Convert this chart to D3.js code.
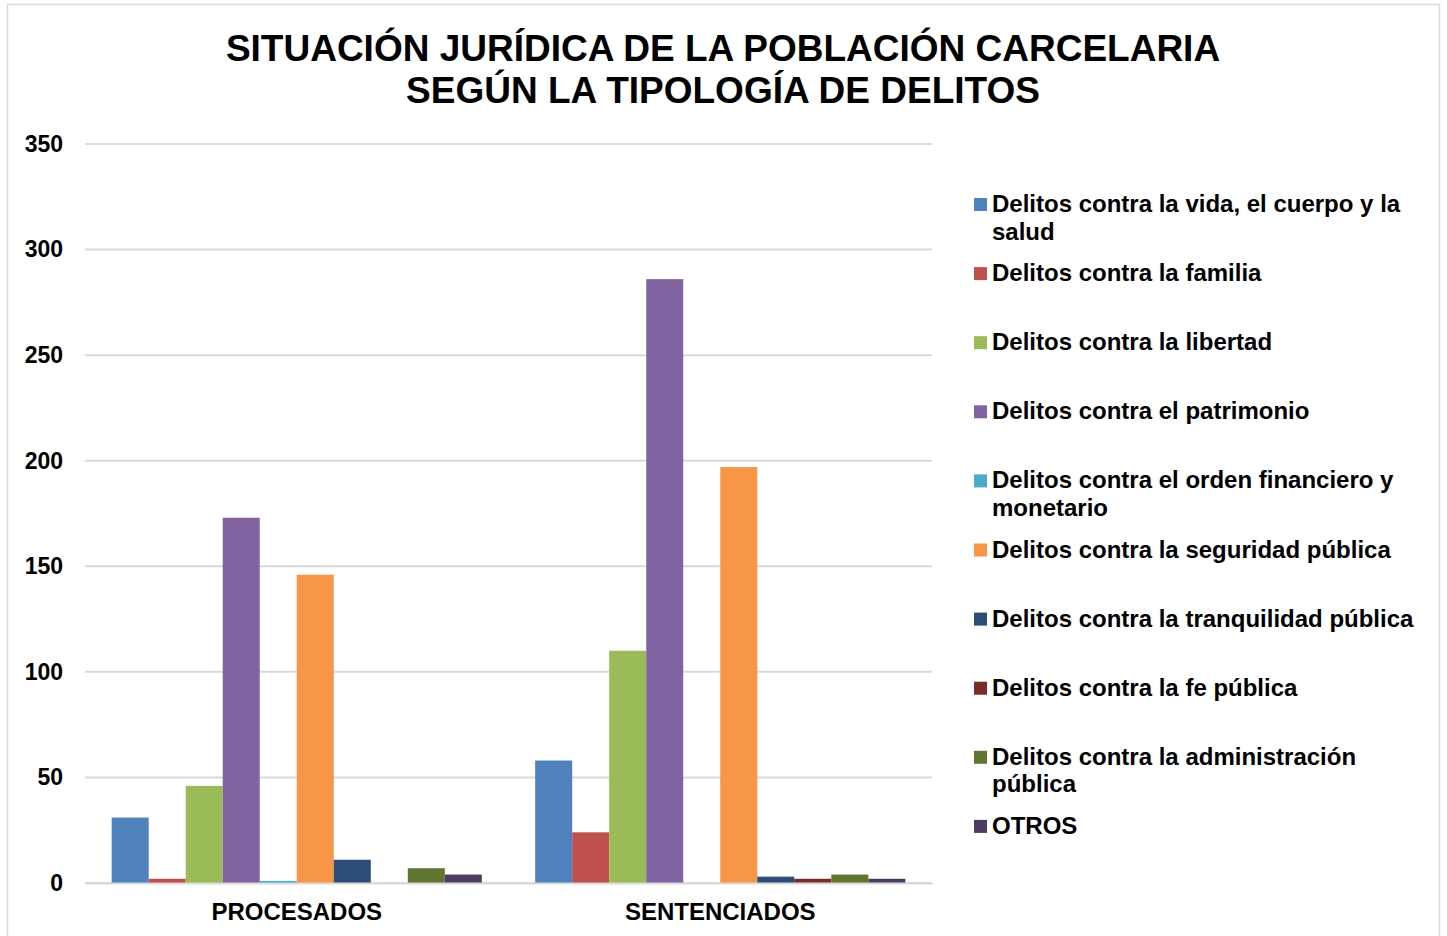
<!DOCTYPE html>
<html>
<head>
<meta charset="utf-8">
<style>
  body { margin: 0; background: #fff; }
  svg text { font-family: 'Liberation Sans', Arial, sans-serif; font-weight: bold; fill: #000; }
  .grid line { stroke: #d9d9d9; stroke-width: 2; }
</style>
</head>
<body>
<div id="chart"></div>
<script src="https://cdn.jsdelivr.net/npm/d3@7"></script>
<script>
var categories = ["PROCESADOS", "SENTENCIADOS"];
var series = [
  "Delitos contra la vida, el cuerpo y la salud",
  "Delitos contra la familia",
  "Delitos contra la libertad",
  "Delitos contra el patrimonio",
  "Delitos contra el orden financiero y monetario",
  "Delitos contra la seguridad pública",
  "Delitos contra la tranquilidad pública",
  "Delitos contra la fe pública",
  "Delitos contra la administración pública",
  "OTROS"
];
// legend lines as wrapped in the picture
var legendLines = [
  ["Delitos contra la vida, el cuerpo y la", "salud"],
  ["Delitos contra la familia"],
  ["Delitos contra la libertad"],
  ["Delitos contra el patrimonio"],
  ["Delitos contra el orden financiero y", "monetario"],
  ["Delitos contra la seguridad pública"],
  ["Delitos contra la tranquilidad pública"],
  ["Delitos contra la fe pública"],
  ["Delitos contra la administración", "pública"],
  ["OTROS"]
];
var procesados   = [31, 2, 46, 173, 1, 146, 11, 0, 7, 4];
var sentenciados = [58, 24, 110, 286, 0, 197, 3, 2, 4, 2];
var colors = ["#4F81BD", "#C0504D", "#9BBB59", "#8064A2", "#4BACC6",
              "#F79646", "#2C4D75", "#772C2A", "#5F7530", "#4D3B62"];
var yTicks = [0, 50, 100, 150, 200, 250, 300, 350];

var width = 1447, height = 936;
var values = [procesados, sentenciados];

var svg = d3.select("#chart").append("svg")
  .attr("width", width)
  .attr("height", height);

// outer chart frame
svg.append("rect")
  .attr("x", 7.5).attr("y", 4.5)
  .attr("width", 1432).attr("height", 940)
  .attr("fill", "#fff")
  .attr("stroke", "#d9d9d9")
  .attr("stroke-width", 1.5);

// title
var title = svg.append("text")
  .attr("text-anchor", "middle")
  .style("font-size", "37px");
title.append("tspan").attr("x", 723).attr("y", 61).text("SITUACIÓN JURÍDICA DE LA POBLACIÓN CARCELARIA");
title.append("tspan").attr("x", 723).attr("y", 103).text("SEGÚN LA TIPOLOGÍA DE DELITOS");

var plotLeft = 85, plotRight = 932, plotTop = 144, plotBottom = 883;

var y = d3.scaleLinear().domain([0, 350]).range([plotBottom, plotTop]);
var x0 = d3.scaleBand().domain(categories).range([plotLeft, plotRight])
  .paddingInner(0.126).paddingOuter(0.063);
var x1 = d3.scaleBand().domain(d3.range(series.length)).range([0, x0.bandwidth()]);

// gridlines
svg.append("g").attr("class", "grid")
  .selectAll("line").data(yTicks).enter().append("line")
  .attr("x1", plotLeft).attr("x2", plotRight)
  .attr("y1", function(d) { return y(d); })
  .attr("y2", function(d) { return y(d); });

// y axis labels
var yAxis = d3.axisLeft(y).tickValues(yTicks).tickSize(0).tickPadding(22);
var ya = svg.append("g").attr("transform", "translate(" + plotLeft + ",0)").call(yAxis);
ya.select(".domain").remove();
ya.selectAll("text").style("font-size", "23px")
  .style("font-family", "'Liberation Sans', Arial, sans-serif")
  .style("font-weight", "bold").attr("fill", "#000");

// bars
var groups = svg.append("g").selectAll("g").data(categories).enter().append("g")
  .attr("transform", function(d) { return "translate(" + x0(d) + ",0)"; });
groups.selectAll("rect")
  .data(function(d, i) { return values[i].map(function(v, j) { return { v: v, j: j }; }); })
  .enter().append("rect")
  .attr("x", function(d) { return x1(d.j); })
  .attr("width", x1.bandwidth())
  .attr("y", function(d) { return y(d.v); })
  .attr("height", function(d) { return plotBottom - y(d.v); })
  .attr("fill", function(d) { return colors[d.j]; });

// category axis
var xAxis = d3.axisBottom(x0).tickSize(0).tickPadding(20);
var xa = svg.append("g").attr("transform", "translate(0," + plotBottom + ")").call(xAxis);
xa.select(".domain").attr("stroke", "#d9d9d9").attr("stroke-width", 2);
xa.selectAll("text").style("font-size", "24px")
  .style("font-family", "'Liberation Sans', Arial, sans-serif")
  .style("font-weight", "bold").attr("fill", "#000");

// legend
var legend = svg.append("g").selectAll("g").data(series).enter().append("g")
  .attr("transform", function(d, i) { return "translate(974," + (204 + i * 69.1) + ")"; });
legend.append("rect")
  .attr("x", 0).attr("y", -6).attr("width", 13).attr("height", 13)
  .attr("fill", function(d, i) { return colors[i]; });
legend.append("text")
  .style("font-size", "24px")
  .selectAll("tspan").data(function(d, i) { return legendLines[i]; }).enter().append("tspan")
  .attr("x", 18)
  .attr("y", function(d, k) { return 8 + k * 27.5; })
  .text(function(d) { return d; });
</script>
</body>
</html>
